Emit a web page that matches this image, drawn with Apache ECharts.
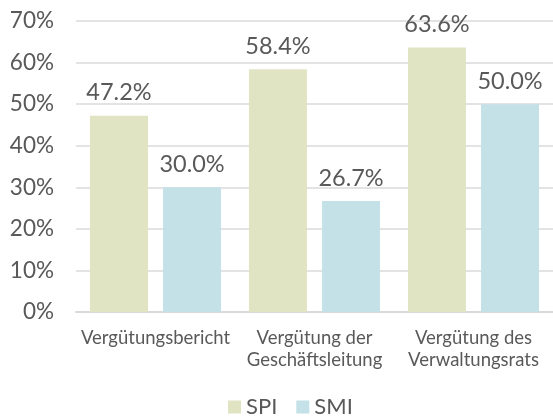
<!DOCTYPE html>
<html>
<head>
<meta charset="utf-8">
<style>
  html, body { margin: 0; padding: 0; background: #fff; }
  #chart { width: 553px; height: 419px; }
</style>
<script src="https://cdn.jsdelivr.net/npm/echarts@6/dist/echarts.min.js"></script>
</head>
<body>
<div id="chart"></div>
<script>
// categories and values
var categories = ['Vergütungsbericht', 'Vergütung der\nGeschäftsleitung', 'Vergütung des\nVerwaltungsrats']
var spiValues = [47.2, 58.4, 63.6]
var smiValues = [30.0, 26.7, 50.0]
var yTicks = [0, 10, 20, 30, 40, 50, 60, 70]

var textColor = '#595959'
var font = 'Lato'

var chart = echarts.init(document.getElementById('chart'))

function barLabel () {
  return {
    show: true,
    position: 'top',
    distance: 11,
    color: textColor,
    fontFamily: font,
    fontSize: 23.5,
    formatter: function (p) { return p.value.toFixed(1) + '%' }
  }
}

chart.setOption({
  animation: false,
  grid: {
    left: 76,
    top: 21,
    width: 480,
    height: 291
  },
  legend: {
    bottom: -4,
    left: 223,
    itemWidth: 13,
    itemHeight: 13,
    itemGap: 19,
    icon: 'rect',
    textStyle: { color: textColor, fontFamily: font, fontSize: 22 },
    data: ['SPI', 'SMI']
  },
  xAxis: {
    type: 'category',
    data: categories,
    axisTick: { show: false },
    axisLine: { lineStyle: { color: '#d9d9d9', width: 2 } },
    axisLabel: {
      color: textColor,
      fontFamily: font,
      fontSize: 18.5,
      lineHeight: 22,
      margin: 15,
      interval: 0
    }
  },
  yAxis: {
    type: 'value',
    min: yTicks[0],
    max: yTicks[yTicks.length - 1],
    interval: 10,
    axisLine: { show: false },
    axisTick: { show: false },
    splitLine: { lineStyle: { color: '#e3e3e3', width: 2 } },
    axisLabel: {
      color: textColor,
      fontFamily: font,
      fontSize: 22.5,
      margin: 22,
      formatter: '{value}%'
    }
  },
  series: [{
    name: 'SPI',
    type: 'bar',
    data: spiValues,
    barWidth: 58,
    barGap: '26%',
    itemStyle: { color: '#e0e4c2' },
    label: barLabel()
  }, {
    name: 'SMI',
    type: 'bar',
    data: smiValues,
    barWidth: 58,
    itemStyle: { color: '#c3e1e6' },
    label: barLabel()
  }]
})
</script>
</body>
</html>
